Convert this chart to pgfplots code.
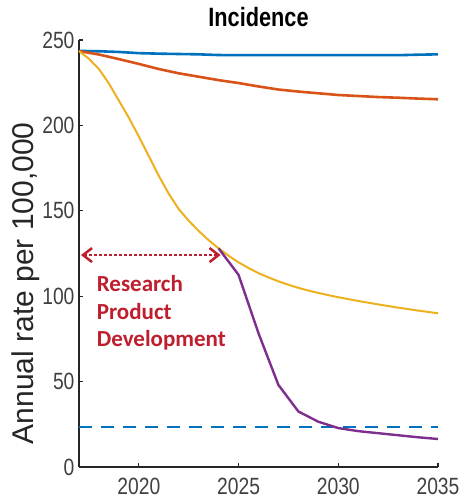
\documentclass[border=0pt]{standalone}
\usepackage{fontspec}
\setmainfont{Liberation Sans}[FakeStretch=0.82]
\newfontfamily\labelfont{Liberation Sans}
\newfontfamily\annfont{Carlito}
\usepackage{pgfplots}
\pgfplotsset{compat=1.18}
\usetikzlibrary{arrows.meta}
\definecolor{mblue}{RGB}{0,114,189}
\definecolor{mred}{RGB}{217,83,25}
\definecolor{myellow}{RGB}{237,177,32}
\definecolor{mpurple}{RGB}{126,47,142}
\definecolor{axgray}{RGB}{38,38,38}
\definecolor{tickgray}{RGB}{64,64,64}
\definecolor{ared}{RGB}{190,30,45}
\begin{document}
\begin{tikzpicture}
\useasboundingbox (-79pt,-36pt) rectangle (382pt,467pt);
\begin{axis}[
  at={(0pt,0pt)}, anchor=south west,
  scale only axis, width=359pt, height=427pt,
  xmin=2017, xmax=2035, ymin=0, ymax=250,
  clip=false,
  axis x line*=bottom, axis y line*=left,
  axis line style={color=axgray, line width=1.2pt},
  tick align=inside, major tick length=4pt,
  tick style={color=axgray, line width=1.2pt},
  xtick={2020,2025,2030,2035}, xticklabels={2020,2025,2030,2035},
  ytick={0,50,100,150,200,250}, yticklabels={0,50,100,150,200,250},
  tick label style={font=\fontsize{23.5}{28}\selectfont, text=tickgray},
  yticklabel style={xshift=-1pt},
  xticklabel style={yshift=-8pt},
  title={Incidence},
  title style={font=\fontsize{26.5}{30}\selectfont\bfseries, at={(0.5,1)}, anchor=base, yshift=7pt},
  ylabel={Annual rate per 100,000},
  ylabel style={font=\labelfont\fontsize{30}{34}\selectfont, text=axgray, at={(axis description cs:-0.1273,0.43)}, anchor=base},
]
% blue solid
\addplot[mblue, line width=2.6pt] coordinates {
(2017,243.6)(2018,243.4)(2019,243.0)(2020,242.3)(2021,242.0)(2022,241.8)(2023,241.6)(2024,241.2)(2025,241.1)(2026,241.1)(2027,241.1)(2028,241.1)(2029,241.1)(2030,241.1)(2031,241.1)(2032,241.1)(2033,241.1)(2034,241.4)(2035,241.6)};
% red
\addplot[mred, line width=2.6pt] coordinates {
(2017,243.5)(2018,241.5)(2019,238.8)(2020,236)(2021,233)(2022,230.5)(2023,228.5)(2024,226.5)(2025,224.8)(2026,222.8)(2027,221)(2028,219.8)(2029,218.8)(2030,217.8)(2031,217.2)(2032,216.6)(2033,216.2)(2034,215.7)(2035,215.3)};
% yellow
\addplot[myellow, line width=2pt] coordinates {
(2017,243.5)(2017.5,239)(2018,233)(2018.5,224.5)(2019,214.5)(2019.5,204.5)(2020,193.5)(2020.5,182)(2021,170.5)(2021.5,160)(2022,151)(2022.5,144.2)(2023,138.2)(2023.5,132.8)(2024,128)(2024.5,123.7)(2025,119.8)(2025.5,116.5)(2026,113.5)(2026.5,111)(2027,108.7)(2027.5,106.7)(2028,104.9)(2028.5,103.3)(2029,101.9)(2029.5,100.6)(2030,99.4)(2031,97.2)(2032,95.2)(2033,93.3)(2034,91.6)(2035,90)};
% dashed target
\addplot[mblue, line width=2.6pt, dash pattern=on 13pt off 9pt] coordinates {(2017,23.5)(2035,23.5)};
% purple
\addplot[mpurple, line width=2.4pt] coordinates {
(2024,128)(2025,112.5)(2026,78.3)(2027,48)(2028,32.5)(2029,26.5)(2030,22.8)(2031,21)(2032,19.8)(2033,18.6)(2034,17.4)(2035,16.4)};
% annotation
\draw[ared, line width=2.5pt, dash pattern=on 2.5pt off 2.5pt, {Straight Barb[length=9pt,width=14pt]}-{Straight Barb[length=9pt,width=14pt]}] (axis cs:2017.1,124.1) -- (axis cs:2024.1,124.1);
\node[anchor=base west, inner sep=0pt, font=\annfont\bfseries\fontsize{23}{27}\selectfont, text=ared] at (axis cs:2017.885,102.6) {Research};
\node[anchor=base west, inner sep=0pt, font=\annfont\bfseries\fontsize{23}{27}\selectfont, text=ared] at (axis cs:2017.885,86.5) {Product};
\node[anchor=base west, inner sep=0pt, font=\annfont\bfseries\fontsize{23}{27}\selectfont, text=ared] at (axis cs:2017.885,70.4) {Development};
\end{axis}
\end{tikzpicture}
\end{document}
